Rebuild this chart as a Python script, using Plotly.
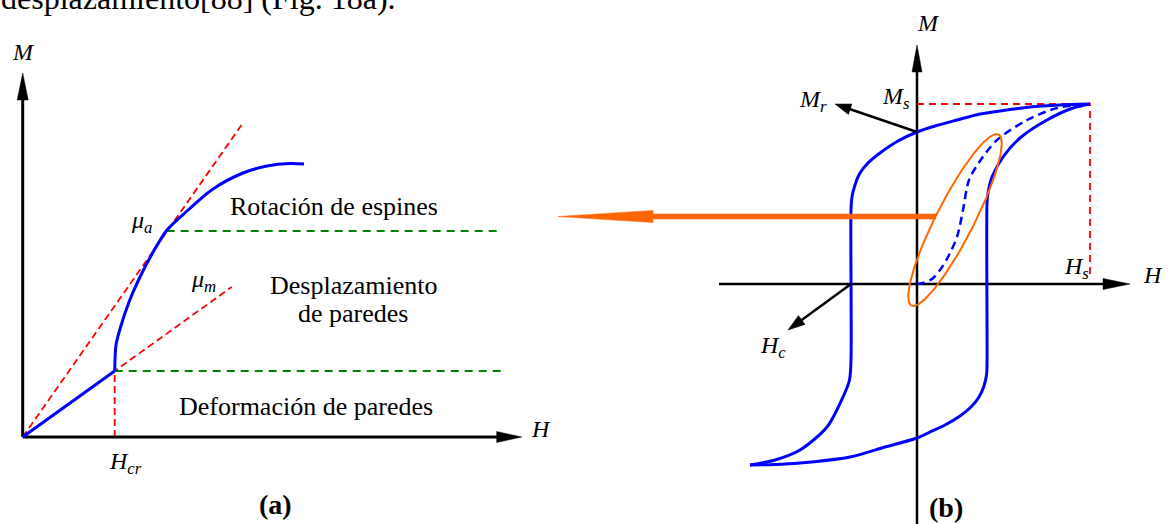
import numpy as np
import plotly.graph_objects as go

# Both panels use arbitrary field (H) / magnetisation (M) units, 10 px per unit.
PX = 10.0
W, HGT = 1170, 524
A_ORIGIN = (22.7, 437.0)   # pixel position of the (a) origin
B_ORIGIN = (917.0, 284.0)  # pixel position of the (b) origin

# ---------------- Panel (a): first magnetisation curve ----------------
a_axis_H = 49.9
a_axis_M = 36.4
a_lin_H = [0.0, 9.2]
a_lin_M = [0.0, 6.6]
a_curve_H = [9.2, 9.33, 9.73, 10.63, 11.63, 12.93, 14.43, 16.43, 19.03, 22.03, 24.43, 26.73, 28.13]
a_curve_M = [6.6, 9.2, 10.8, 13.5, 15.8, 18.3, 20.7, 22.6, 24.8, 26.4, 27.1, 27.35, 27.3]
a_mua_H = [0.0, 22.1]
a_mua_M = [0.0, 31.5]
a_mum_H = [0.0, 20.9]
a_mum_M = [0.0, 15.0]
a_Hcr = 9.2
a_rot_level, a_rot_from, a_rot_to = 20.6, 14.4, 47.4
a_def_level, a_def_from, a_def_to = 6.6, 9.2, 47.9

# ---------------- Panel (b): hysteresis loop ----------------
b_axis_H = [-19.8, 21.3]
b_axis_M = [-24.0, 23.9]
b_desc_H = [17.3, 14.3, 11.3, 9.0, 6.3, 4.0, 1.8, 0.0, -1.9, -3.7, -4.9, -5.7, -6.2, -6.5, -6.6,
            -6.6, -6.75, -7.4, -9.0, -11.7, -14.2, -16.7]
b_desc_M = [18.0, 17.9, 17.7, 17.4, 17.0, 16.4, 15.8, 15.2, 14.3, 13.1, 12.1, 11.1, 9.9, 8.7, 7.4,
            -7.6, -9.6, -11.3, -14.3, -16.6, -17.6, -18.1]
b_asc_H = [-16.7, -14.2, -11.7, -6.7, -3.2, 0.0, 1.3, 2.8, 4.3, 5.4, 6.2, 6.7, 6.95, 7.0,
           7.0, 7.1, 7.5, 8.6, 10.3, 13.0, 15.6, 17.3]
b_asc_M = [-18.1, -18.05, -17.9, -17.3, -16.3, -15.4, -14.8, -14.1, -13.2, -12.3, -11.3, -10.2, -9.1, -8.3,
           8.1, 9.1, 10.7, 12.7, 14.6, 16.4, 17.6, 18.0]
b_init_H = [0.0, 0.6, 1.5, 2.3, 3.1, 4.0, 4.6, 5.2, 6.3, 8.0, 11.0, 14.0, 17.3]
b_init_M = [0.0, 0.1, 0.5, 1.4, 2.7, 4.7, 7.4, 10.4, 12.3, 14.4, 16.4, 17.6, 18.0]
b_Hs, b_Ms = 17.3, 18.0
b_Mr, b_Hc = 15.2, -6.6
b_Mr_tip = (-8.2, 18.0)
b_Hc_tip = (-12.9, -4.6)
b_minor_center = (3.8, 6.4)
b_minor_axes = (9.6, 1.9)
b_minor_angle = 63.0
b_link_from = (1.9, 6.75)
b_link_tip = (-35.9, 6.75)

BLUE = "#0000FF"
RED = "#FF0000"
GREEN = "#008000"
ORANGE = "#FF6600"
SERIF = "Liberation Serif"

fig = go.Figure()


def line(xs, ys, color, width, dash=None, panel="a", shape="linear"):
    fig.add_trace(go.Scatter(
        x=xs, y=ys, mode="lines", hoverinfo="skip", showlegend=False,
        line=dict(color=color, width=width, dash=dash, shape=shape, smoothing=0.8),
        xaxis="x" if panel == "a" else "x2", yaxis="y" if panel == "a" else "y2"))


def arrow(x0, y0, x1, y1, color, width, head_len, head_half, panel="a"):
    p0 = np.array([x0, y0], float)
    p1 = np.array([x1, y1], float)
    d = (p1 - p0) / np.linalg.norm(p1 - p0)
    n = np.array([-d[1], d[0]])
    base = p1 - d * head_len
    line([p0[0], base[0] + d[0] * 0.3], [p0[1], base[1] + d[1] * 0.3], color, width, panel=panel)
    tri = [p1, base + n * head_half, base - n * head_half, p1]
    fig.add_trace(go.Scatter(
        x=[p[0] for p in tri], y=[p[1] for p in tri], mode="lines", fill="toself",
        fillcolor=color, line=dict(color=color, width=0.5), hoverinfo="skip",
        showlegend=False,
        xaxis="x" if panel == "a" else "x2", yaxis="y" if panel == "a" else "y2"))


# ---- panel (a) ----
line(a_mua_H, a_mua_M, RED, 1.8, "7px,4px")
line(a_mum_H, a_mum_M, RED, 1.8, "7px,4px")
line([a_Hcr, a_Hcr], [0, a_def_level], RED, 1.8, "7px,4px")
line([a_rot_from, a_rot_to], [a_rot_level] * 2, GREEN, 1.8, "8px,6px")
line([a_def_from, a_def_to], [a_def_level] * 2, GREEN, 1.8, "8px,6px")
arrow(0, 0, a_axis_H, 0, "black", 3, 2.5, 0.55)
arrow(0, 0, 0, a_axis_M, "black", 3, 2.7, 0.55)
line(a_lin_H, a_lin_M, BLUE, 3)
line(a_curve_H, a_curve_M, BLUE, 3, shape="spline")

# ---- panel (b) ----
arrow(b_axis_H[0], 0, b_axis_H[1], 0, "black", 2.5, 2.7, 0.55, panel="b")
arrow(0, b_axis_M[0], 0, b_axis_M[1], "black", 2.5, 2.7, 0.5, panel="b")
line([0, b_Hs, b_Hs], [b_Ms, b_Ms, 0.5], RED, 1.8, "7px,5px", panel="b")
line(b_desc_H, b_desc_M, BLUE, 3, panel="b", shape="spline")
line(b_asc_H, b_asc_M, BLUE, 3, panel="b", shape="spline")
line(b_init_H, b_init_M, BLUE, 2.5, "8px,5px", panel="b", shape="spline")
arrow(0, b_Mr, b_Mr_tip[0], b_Mr_tip[1], "black", 2.5, 1.6, 0.55, panel="b")
arrow(b_Hc, 0, b_Hc_tip[0], b_Hc_tip[1], "black", 2.5, 1.7, 0.55, panel="b")

t = np.linspace(0, 2 * np.pi, 240)
th = np.radians(b_minor_angle)
ea, eb = b_minor_axes
ex = b_minor_center[0] + ea * np.cos(t) * np.cos(th) - eb * np.sin(t) * np.sin(th)
ey = b_minor_center[1] + ea * np.cos(t) * np.sin(th) + eb * np.sin(t) * np.cos(th)
line(ex, ey, ORANGE, 2, panel="b")
arrow(b_link_from[0], b_link_from[1], b_link_tip[0], b_link_tip[1], ORANGE, 5.5, 9.5, 0.6, panel="b")

# ---- texts ----
ann = []


def text(x, y, s, size, panel="a", xanchor="center", xshift=0, yshift=0):
    ann.append(dict(x=x, y=y, text=s, showarrow=False, xanchor=xanchor, yanchor="middle",
                    xshift=xshift, yshift=yshift,
                    xref="x" if panel == "a" else "x2", yref="y" if panel == "a" else "y2",
                    font=dict(family=SERIF, size=size, color="black")))


# body-text line running along the top edge of the page
text(-2.2, 43.5, "desplazamiento[88] (Fig. 18a).", 32, xanchor="left", xshift=-1.7, yshift=3.8)
text(0.1, 38.5, "<i>M</i>", 24)
text(51.8, 0.85, "<i>H</i>", 24)
text(10.3, -2.6, "<i>H<sub>cr</sub></i>", 24)
text(25.3, -6.7, "<b>(a)</b>", 28)
text(11.9, 21.5, "<i>μ<sub>a</sub></i>", 24)
text(18.1, 15.6, "<i>μ<sub>m</sub></i>", 24)
text(31.1, 23.1, "Rotación de espines", 26)
text(33.1, 15.2, "Desplazamiento", 26)
text(33.0, 12.4, "de paredes", 26)
text(28.3, 3.1, "Deformación de paredes", 26)

text(1.1, 26.1, "<i>M</i>", 24, panel="b")
text(-0.5, 18.6, "<i>M<sub>s</sub></i>", 24, panel="b", xanchor="right")
text(-10.4, 18.3, "<i>M<sub>r</sub></i>", 24, panel="b")
text(15.9, 1.6, "<i>H<sub>s</sub></i>", 24, panel="b")
text(23.6, 0.95, "<i>H</i>", 24, panel="b")
text(-14.4, -6.3, "<i>H<sub>c</sub></i>", 24, panel="b")
text(2.9, -22.3, "<b>(b)</b>", 28, panel="b")


def rng(origin, n_px, flip=False):
    if not flip:
        return [-origin / PX, (n_px - origin) / PX]
    return [(origin - n_px) / PX, origin / PX]


hidden = dict(visible=False, showgrid=False, zeroline=False, fixedrange=True)
fig.update_layout(
    width=W, height=HGT, autosize=False,
    margin=dict(l=0, r=0, t=0, b=0, pad=0),
    paper_bgcolor="white", plot_bgcolor="white",
    xaxis=dict(range=rng(A_ORIGIN[0], W), domain=[0, 1], **hidden),
    yaxis=dict(range=rng(A_ORIGIN[1], HGT, flip=True), domain=[0, 1], **hidden),
    xaxis2=dict(range=rng(B_ORIGIN[0], W), domain=[0, 1], overlaying="x", **hidden),
    yaxis2=dict(range=rng(B_ORIGIN[1], HGT, flip=True), domain=[0, 1], overlaying="y", **hidden),
    annotations=ann,
)

fig.write_html("out.html", config=dict(displayModeBar=False))
